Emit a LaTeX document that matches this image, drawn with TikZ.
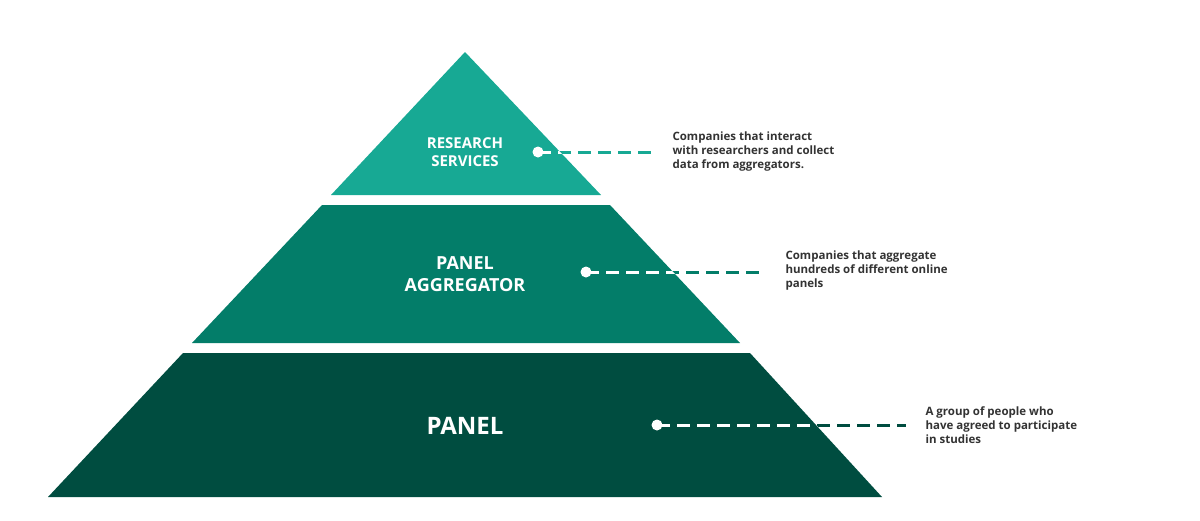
\documentclass[tikz,border=0pt]{standalone}
\usepackage{fontspec}
\setmainfont{Open Sans}
\definecolor{cTop}{HTML}{17A994}
\definecolor{cMid}{HTML}{037D69}
\definecolor{cBot}{HTML}{004D40}
\definecolor{cTxt}{HTML}{333333}
\begin{document}
\begin{tikzpicture}[x=1pt,y=-1pt,
  lvl/.style={font=\bfseries, text=white, align=center},
  desc/.style={font=\bfseries\fontsize{11.5}{14}\selectfont, text=cTxt, align=left, anchor=west},
  dashline/.style={line width=3pt, dash pattern=on 13pt off 7pt},
  dot/.style={circle, fill=white, inner sep=0pt, minimum size=11pt}]
\useasboundingbox (0,0) rectangle (1200,520);
\fill[cTop] (465,52) -- (601,195) -- (331,195) -- cycle;
\fill[cMid] (322,205) -- (610,205) -- (740,343) -- (192,343) -- cycle;
\fill[cBot] (183,353) -- (750,353) -- (882,497) -- (48,497) -- cycle;
\node[lvl, font=\bfseries\fontsize{15}{18}\selectfont] (rs) at (465,152) {RESEARCH\\SERVICES};
\node[lvl, font=\bfseries\fontsize{18}{22}\selectfont] (pa) at (465,274) {PANEL\\AGGREGATOR};
\node[lvl, font=\bfseries\fontsize{24}{28}\selectfont] (pn) at (465,426) {PANEL};
\node[desc] (d1) at (669,152) {Companies that interact\\with researchers and collect\\data from aggregators.};
\node[desc] (d2) at (782,271) {Companies that aggregate\\hundreds of different online\\panels};
\node[desc] (d3) at (922,425) {A group of people who\\have agreed to participate\\in studies};
\coordinate (a1) at (538,152); \coordinate (b1) at (656,152);
\coordinate (a2) at (586,272); \coordinate (b2) at (766,272);
\coordinate (a3) at (657,425); \coordinate (b3) at (906,425);
\draw[dashline, cTop] (a1) -- (b1);
\draw[dashline, cMid] (a2) -- (b2);
\draw[dashline, cBot] (a3) -- (b3);
\begin{scope}
\clip (465,52) -- (601,195) -- (331,195) -- cycle
      (322,205) -- (610,205) -- (740,343) -- (192,343) -- cycle
      (183,353) -- (750,353) -- (882,497) -- (48,497) -- cycle;
\draw[dashline, white] (a1) -- (b1);
\draw[dashline, white] (a2) -- (b2);
\draw[dashline, white] (a3) -- (b3);
\end{scope}
\node[dot] at (a1) {};
\node[dot] at (a2) {};
\node[dot] at (a3) {};
\end{tikzpicture}
\end{document}
